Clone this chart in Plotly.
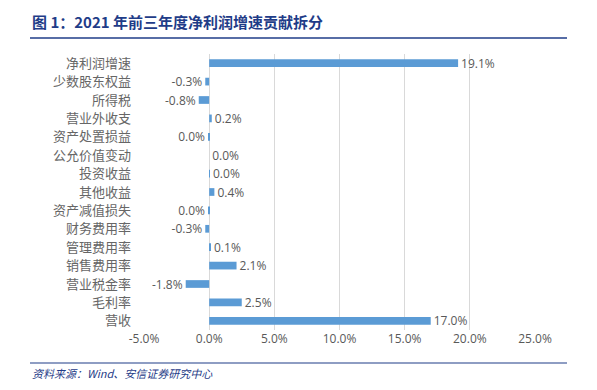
import plotly.graph_objects as go

categories = ["净利润增速", "少数股东权益", "所得税", "营业外收支", "资产处置损益", "公允价值变动",
              "投资收益", "其他收益", "资产减值损失", "财务费用率", "管理费用率", "销售费用率",
              "营业税金率", "毛利率", "营收"]
values = [19.1, -0.3, -0.8, 0.2, -0.03, 0.0, 0.02, 0.4, -0.03, -0.3, 0.1, 2.1, -1.8, 2.5, 17.0]
labels = ["19.1%", "-0.3%", "-0.8%", "0.2%", "0.0%", "0.0%", "0.0%", "0.4%", "0.0%", "-0.3%",
          "0.1%", "2.1%", "-1.8%", "2.5%", "17.0%"]
x_ticks = [-5, 0, 5, 10, 15, 20, 25]
x_tick_labels = ["-5.0%", "0.0%", "5.0%", "10.0%", "15.0%", "20.0%", "25.0%"]

title_text = "图 1：2021 年前三年度净利润增速贡献拆分"
source_text = "资料来源：Wind、安信证券研究中心"

L, R, T, B = 144, 535, 54, 330
W, H = R - L, B - T

fig = go.Figure()
fig.add_trace(go.Bar(
    y=categories, x=values, orientation="h",
    marker=dict(color="#5b9bd5", line=dict(width=0)),
    width=0.42,
    text=labels, textposition="outside", cliponaxis=False, constraintext="none",
    textfont=dict(family="Open Sans, Noto Sans CJK SC", size=12, color="#595959"),
    hoverinfo="skip",
))

fig.update_layout(
    width=597, height=390,
    margin=dict(l=L, r=597 - R, t=T, b=390 - B, autoexpand=False),
    paper_bgcolor="white", plot_bgcolor="white",
    showlegend=False,
    uniformtext=dict(minsize=12, mode="show"),
    font=dict(family="Noto Sans CJK SC", color="#595959"),
    xaxis=dict(range=[-5, 25], tickvals=x_ticks, ticktext=x_tick_labels, automargin=False,
               showgrid=True, gridcolor="#d9d9d9", gridwidth=1,
               zeroline=False, showline=False, ticks="",
               tickfont=dict(family="Open Sans, Noto Sans CJK SC", size=12, color="#595959")),
    yaxis=dict(autorange="reversed", showgrid=False, zeroline=False, showline=False,
               ticks="", ticklabelstandoff=12, automargin=False,
               tickfont=dict(family="Noto Sans CJK SC", size=13, color="#666666")),
    annotations=[
        dict(text="<b>" + title_text + "</b>", xref="paper", yref="paper",
             x=(30 - L) / W, y=1 + (T - 22) / H, xanchor="left", yanchor="middle",
             showarrow=False, font=dict(family="Noto Sans CJK SC", size=15, color="#1f3c88")),
        dict(text="<i>" + source_text + "</i>", xref="paper", yref="paper",
             x=(30 - L) / W, y=-(373 - B) / H, xanchor="left", yanchor="middle",
             showarrow=False, font=dict(family="Noto Sans CJK SC", size=11, color="#1f3c88")),
    ],
    shapes=[
        dict(type="line", xref="paper", yref="paper",
             x0=(30 - L) / W, x1=(567 - L) / W,
             y0=1 + (T - 38) / H, y1=1 + (T - 38) / H,
             line=dict(color="#1f3c88", width=1.5)),
        dict(type="line", xref="paper", yref="paper",
             x0=(30 - L) / W, x1=(567 - L) / W,
             y0=-(363 - B) / H, y1=-(363 - B) / H,
             line=dict(color="#1f3c88", width=1.2)),
    ],
)

fig.write_html("out.html", config={"displayModeBar": False},
               post_script="document.body.style.margin='0';document.body.style.overflow='hidden';")
